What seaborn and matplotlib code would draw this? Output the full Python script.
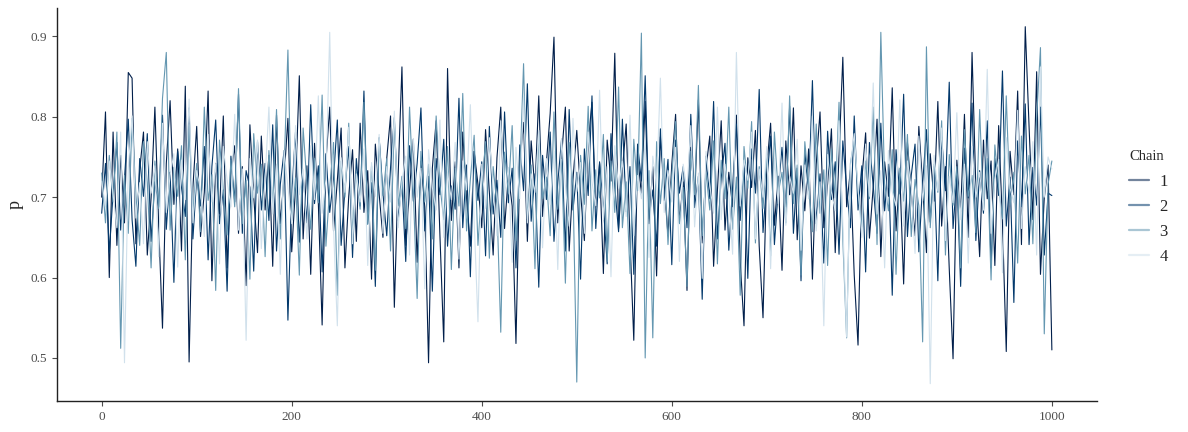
import numpy as np
import pandas as pd
import matplotlib
matplotlib.use("Agg")
import matplotlib.pyplot as plt
import seaborn as sns

# trace of p for 4 chains, read every 4th iteration (values are p x 1000)
iterations = np.arange(0, 1001, 4)

chain_1 = [
    700, 806, 600, 781, 640, 752, 668, 855, 848, 642, 734, 781, 628, 699, 812, 665, 537, 742, 820, 691, 760, 633, 838, 495, 712,
    788, 651, 706, 832, 596, 742, 679, 801, 612, 728, 764, 655, 738, 590, 790, 701, 631, 776, 684, 752, 614, 802, 667, 725, 798,
    632, 712, 851, 648, 739, 604, 767, 693, 541, 745, 812, 658, 721, 786, 612, 701, 759, 645, 792, 681, 733, 598, 766, 704, 650,
    748, 801, 563, 727, 862, 640, 709, 772, 619, 745, 688, 494, 736, 795, 652, 520, 860, 671, 744, 612, 781, 698, 639, 757, 716,
    662, 784, 705, 628, 749, 812, 661, 728, 689, 518, 741, 793, 645, 770, 709, 826, 676, 742, 804, 899, 668, 751, 812, 633, 722,
    783, 705, 646, 767, 818, 688, 742, 605, 771, 720, 879, 661, 733, 791, 648, 522, 754, 703, 819, 667, 738, 602, 775, 716, 652,
    741, 803, 668, 719, 584, 762, 697, 821, 643, 735, 776, 614, 708, 795, 659, 731, 688, 802, 620, 540, 749, 712, 783, 639, 550,
    738, 792, 665, 726, 609, 770, 703, 811, 647, 739, 683, 760, 598, 741, 806, 662, 717, 785, 631, 752, 874, 688, 734, 603, 516,
    722, 780, 649, 713, 797, 626, 744, 701, 836, 658, 729, 592, 768, 706, 652, 788, 715, 631, 754, 695, 819, 664, 738, 611, 499,
    746, 682, 803, 650, 880, 712, 626, 771, 698, 745, 615, 789, 668, 508, 757, 703, 832, 641, 912, 788, 672, 856, 604, 699, 740,
    510,
]

chain_2 = [
    680, 742, 631, 705, 768, 659, 723, 797, 672, 614, 748, 701, 779, 645, 719, 688, 802, 660, 731, 594, 757, 712, 676, 811, 648,
    725, 689, 763, 622, 738, 796, 667, 709, 583, 751, 694, 828, 655, 733, 712, 608, 769, 684, 742, 671, 790, 633, 716, 758, 547,
    702, 781, 644, 727, 668, 815, 692, 739, 607, 754, 681, 723, 796, 640, 710, 763, 625, 748, 689, 832, 667, 718, 589, 774, 705,
    652, 737, 799, 671, 718, 620, 764, 695, 742, 811, 658, 726, 583, 748, 703, 772, 639, 714, 685, 823, 662, 740, 601, 757, 696,
    744, 627, 788, 679, 721, 650, 806, 693, 736, 612, 765, 708, 841, 670, 729, 588, 752, 697, 781, 645, 718, 772, 633, 809, 684,
    731, 598, 760, 702, 826, 661, 744, 689, 617, 779, 713, 657, 797, 682, 738, 604, 766, 720, 851, 673, 709, 639, 785, 696, 747,
    616, 771, 705, 738, 662, 803, 687, 726, 573, 751, 698, 819, 648, 724, 767, 634, 712, 791, 671, 743, 599, 760, 705, 834, 656,
    720, 776, 641, 709, 762, 688, 813, 655, 736, 596, 758, 701, 845, 667, 729, 618, 782, 697, 744, 629, 770, 711, 662, 801, 684,
    739, 607, 768, 714, 655, 792, 683, 741, 578, 759, 704, 828, 651, 727, 766, 632, 717, 784, 669, 738, 596, 775, 708, 843, 661,
    726, 589, 761, 699, 817, 646, 733, 680, 795, 612, 748, 702, 857, 664, 725, 569, 770, 688, 816, 641, 737, 690, 812, 628, 705,
    702,
]

chain_3 = [
    730, 668, 752, 694, 781, 512, 727, 655, 798, 703, 640, 769, 718, 612, 745, 686, 823, 880, 659, 737, 701, 764, 622, 790, 681,
    742, 657, 812, 696, 728, 584, 771, 709, 653, 746, 688, 835, 667, 721, 598, 779, 705, 741, 626, 758, 692, 809, 648, 736, 883,
    671, 724, 603, 786, 717, 660, 748, 693, 827, 639, 712, 768, 578, 745, 700, 792, 654, 731, 685, 818, 666, 739, 609, 773, 702,
    748, 633, 795, 689, 726, 661, 812, 705, 574, 757, 694, 741, 648, 801, 715, 672, 763, 610, 736, 689, 829, 658, 722, 777, 640,
    711, 769, 624, 738, 690, 532, 756, 705, 789, 646, 727, 866, 673, 740, 611, 781, 698, 725, 652, 806, 685, 747, 593, 768, 714,
    470, 752, 691, 813, 658, 734, 699, 778, 620, 745, 681, 837, 662, 719, 605, 772, 708, 904, 500, 733, 525, 769, 692, 748, 641,
    726, 794, 667, 712, 589, 757, 703, 839, 652, 731, 684, 770, 617, 746, 698, 812, 660, 725, 578, 763, 711, 794, 643, 738, 686,
    752, 627, 781, 705, 731, 668, 826, 692, 740, 603, 769, 716, 657, 791, 680, 734, 615, 760, 699, 818, 647, 525, 742, 771, 708,
    663, 745, 698, 812, 641, 905, 717, 683, 759, 604, 736, 695, 778, 651, 722, 689, 520, 887, 662, 741, 706, 795, 628, 753, 690,
    738, 612, 784, 701, 727, 656, 809, 684, 748, 597, 765, 712, 673, 826, 690, 731, 618, 776, 704, 752, 642, 799, 886, 530, 716,
    745,
]

chain_4 = [
    720, 688, 745, 703, 662, 781, 494, 736, 801, 674, 718, 642, 769, 705, 739, 626, 792, 681, 727, 754, 613, 746, 697, 822, 668,
    733, 709, 651, 778, 694, 742, 617, 763, 721, 688, 803, 659, 735, 522, 748, 699, 771, 636, 724, 812, 679, 741, 604, 758, 712,
    667, 789, 703, 735, 648, 764, 697, 826, 680, 722, 905, 661, 540, 749, 706, 787, 642, 729, 694, 760, 615, 743, 701, 778, 655,
    738, 694, 807, 662, 719, 751, 628, 773, 700, 736, 586, 759, 712, 684, 796, 650, 731, 697, 768, 623, 745, 709, 815, 671, 545,
    741, 686, 774, 710, 652, 795, 703, 737, 619, 762, 698, 826, 668, 729, 706, 783, 637, 748, 691, 757, 610, 772, 715, 664, 798,
    707, 743, 655, 781, 719, 689, 833, 672, 738, 601, 764, 711, 745, 676, 802, 652, 727, 698, 770, 625, 751, 714, 848, 681, 733,
    694, 762, 620, 741, 708, 789, 663, 730, 599, 757, 715, 680, 812, 672, 741, 703, 629, 880, 689, 746, 721, 781, 648, 735, 700,
    763, 611, 748, 692, 817, 665, 726, 705, 772, 634, 740, 698, 801, 658, 719, 540, 753, 706, 683, 795, 667, 526, 738, 779, 712,
    650, 766, 701, 842, 679, 733, 612, 758, 707, 689, 821, 664, 745, 712, 630, 776, 695, 739, 468, 752, 708, 786, 646, 726, 693,
    805, 672, 741, 618, 763, 700, 731, 684, 859, 655, 722, 747, 606, 774, 711, 693, 808, 661, 738, 705, 769, 628, 862, 700, 750,
    735,
]

chain_names = ["1", "2", "3", "4"]
chain_colors = ["#011f4b", "#03396c", "#6497b1", "#d1e1ec"]
x_ticks = [0, 200, 400, 600, 800, 1000]
y_ticks = [0.5, 0.6, 0.7, 0.8, 0.9]

frames = []
for name, values in zip(chain_names, [chain_1, chain_2, chain_3, chain_4]):
    assert len(values) == len(iterations)
    frames.append(pd.DataFrame({"iteration": iterations,
                                "p": np.array(values) / 1000,
                                "Chain": name}))
trace = pd.concat(frames, ignore_index=True)

sns.set_theme(style="ticks")
plt.rcParams["font.family"] = ["Liberation Serif", "DejaVu Serif"]

fig = plt.figure(figsize=(11.88, 4.32), dpi=100)
ax = fig.add_axes([0.048, 0.072, 0.875, 0.909])

sns.lineplot(data=trace,
             x="iteration",
             y="p",
             hue="Chain",
             palette=chain_colors,
             linewidth=0.8,
             estimator=None,
             sort=False,
             ax=ax)

ax.set_xlim(-47, 1047)
ax.set_ylim(0.4466, 0.935)
ax.set(xticks=x_ticks, yticks=y_ticks, xlabel="")
ax.set_xticklabels([str(t) for t in x_ticks])
ax.set_yticklabels([f"{t:.1f}" for t in y_ticks])
ax.set_ylabel("p", fontsize=13, labelpad=5)
ax.tick_params(axis="both", labelsize=9.5, colors="#4d4d4d", length=3.5, width=0.8, labelcolor="#4d4d4d")
ax.spines["right"].set_visible(False)
ax.spines["top"].set_visible(False)
for side in ["left", "bottom"]:
    ax.spines[side].set_color("#222222")
    ax.spines[side].set_linewidth(1.0)

handles, labels = ax.get_legend_handles_labels()
legend = ax.legend(handles=handles,
                   labels=labels,
                   title="Chain",
                   loc="center left",
                   bbox_to_anchor=(0.938, 0.52),
                   bbox_transform=fig.transFigure,
                   frameon=False,
                   fontsize=12,
                   title_fontsize=10.5,
                   handlelength=1.2,
                   handletextpad=0.6,
                   labelspacing=0.55)
legend._legend_box.align = "left"
legend._legend_box.sep = 8
for line in legend.get_lines():
    line.set_alpha(0.55)
    line.set_linewidth(1.6)

fig.savefig("out.png", dpi=100)
